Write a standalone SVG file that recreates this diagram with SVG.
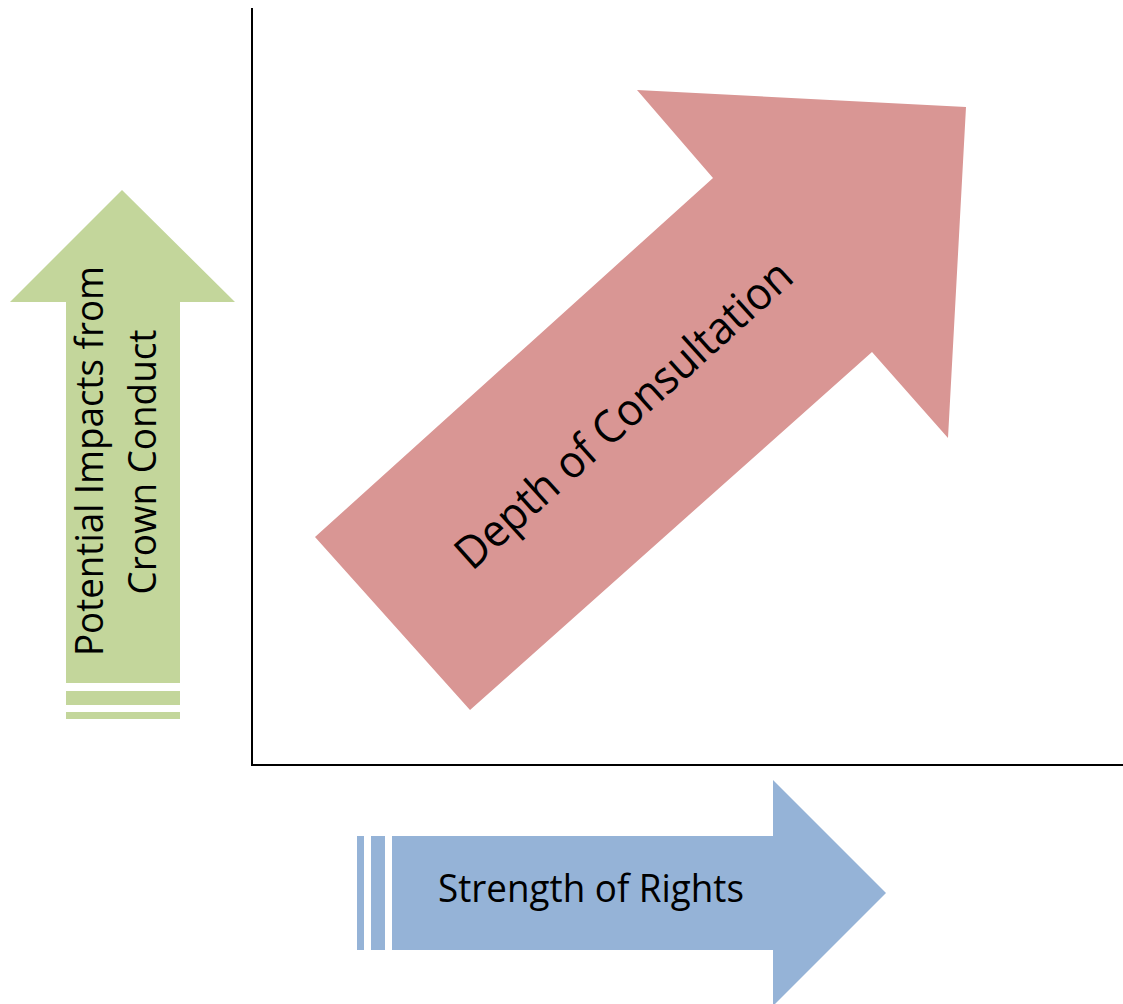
<svg xmlns="http://www.w3.org/2000/svg" width="1123" height="1004" viewBox="0 0 1123 1004">
<style>
.lbl{font-family:"Open Sans","Liberation Sans",sans-serif;fill:#000;text-anchor:middle}
.axis{stroke:#000;stroke-width:2;fill:none}
</style>
<rect width="1123" height="1004" fill="#fff"/>
<g id="connectors">
<path class="axis" d="M252 8 V765 H1123"/>
</g>
<g id="impacts">
<polygon fill="#C3D69B" points="122,190 235,302 180,302 180,683 66,683 66,302 10,302"/>
<rect x="66" y="691" width="114" height="14" fill="#C3D69B"/>
<rect x="66" y="712" width="114" height="7" fill="#C3D69B"/>
<text class="lbl" font-size="39" transform="translate(103,461) rotate(-90)" textLength="390" lengthAdjust="spacingAndGlyphs">Potential Impacts from</text>
<text class="lbl" font-size="39" transform="translate(156,462) rotate(-90)" textLength="265" lengthAdjust="spacingAndGlyphs">Crown Conduct</text>
</g>
<g id="rights">
<polygon fill="#95B3D7" points="886,893 773,1006 773,950 392,950 392,836 773,836 773,780"/>
<rect x="371" y="836" width="14" height="114" fill="#95B3D7"/>
<rect x="357" y="836" width="7" height="114" fill="#95B3D7"/>
<text class="lbl" font-size="39" x="591" y="902" textLength="306" lengthAdjust="spacingAndGlyphs">Strength of Rights</text>
</g>
<g id="depth">
<polygon fill="#D99694" points="315,537 713,178 637,90 966,107 948,438 872,352 470,710"/>
<text class="lbl" font-size="45" transform="translate(634,426) rotate(-42)" textLength="436" lengthAdjust="spacingAndGlyphs">Depth of Consultation</text>
</g>
</svg>
